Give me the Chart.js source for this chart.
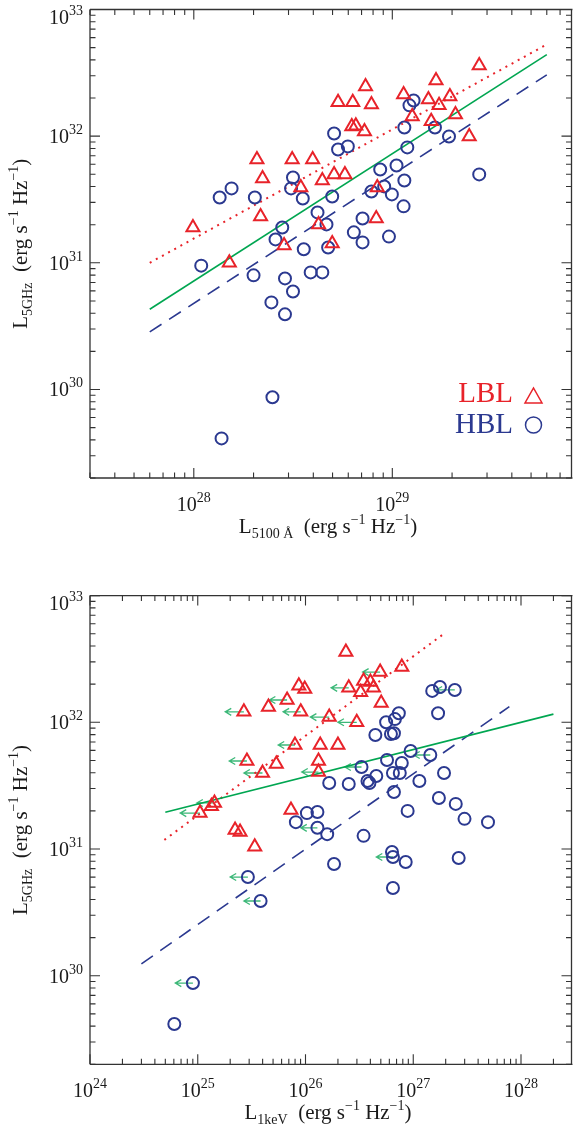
<!DOCTYPE html>
<html><head><meta charset="utf-8">
<script src="https://cdn.jsdelivr.net/npm/chart.js@4.4.1/dist/chart.umd.min.js"></script>
<style>
html,body{margin:0;padding:0;background:#fff;}
#wrap{position:relative;width:580px;height:1128px;overflow:hidden;background:#fff;}
.c{position:absolute;left:0;width:580px;height:564px;}
</style></head><body>
<div id="wrap">
<div class="c" style="top:0"><canvas id="topChart" width="580" height="564"></canvas></div>
<div class="c" style="top:564px"><canvas id="botChart" width="580" height="564"></canvas></div>
</div>
<script>
// ---------- Top panel: L5GHz vs L5100A ----------
const topLBL_x = [2.08e28,3.13e28,3.97e28,2.22e28,3.46e28,4.44e28,2.17e28,4.25e28,9.9e27,2.85e28,1.51e28,2.74e29,1.66e29,7.33e28,1.14e29,5.33e28,6.32e28,7.85e28,1.52e29,1.95e29,1.72e29,2.08e29,1.26e29,6.25e28,6.55e28,7.24e28,1.57e29,2.44e29,5.09e28,5.77e28,8.4e28,8.3e28,4.98e28];
const topLBL_y = [6.55e31,6.55e31,6.55e31,4.64e31,3.94e31,4.47e31,2.32e31,2.01e31,1.9e31,1.37e31,1.0e31,3.61e32,2.75e32,2.47e32,2.13e32,1.85e32,1.85e32,1.78e32,1.95e32,2.06e32,1.75e32,1.48e32,1.43e32,1.19e32,1.21e32,1.09e32,1.31e32,9.95e31,4.99e31,4.99e31,3.94e31,2.24e31,1.42e31];
const topHBL_x = [1.35e28,1.55e28,2.03e28,3.16e28,3.09e28,3.54e28,4.2e28,2.79e28,2.58e28,3.58e28,1.09e28,2.0e28,2.88e28,3.88e28,4.44e28,3.16e28,2.46e28,2.88e28,2.49e28,1.38e28,1.28e29,1.22e29,5.09e28,5.33e28,5.97e28,1.15e29,1.64e29,1.93e29,1.19e29,1.05e29,8.69e28,1.15e29,4.98e28,7.85e28,9.1e28,9.95e28,1.14e29,2.74e29,4.66e28,7.08e28,6.4e28,7.08e28,9.62e28,4.75e28];
const topHBL_y = [3.28e31,3.87e31,3.28e31,4.72e31,3.87e31,3.22e31,2.5e31,1.9e31,1.53e31,1.28e31,9.5e30,7.96e30,7.53e30,8.4e30,8.4e30,5.94e30,4.87e30,3.92e30,8.67e29,4.11e29,1.91e32,1.75e32,1.05e32,7.85e31,8.3e31,1.17e32,1.17e32,9.95e31,8.15e31,5.87e31,5.46e31,4.47e31,3.34e31,3.66e31,4.01e31,3.47e31,2.79e31,4.99e31,2.01e31,2.24e31,1.74e31,1.45e31,1.61e31,1.32e31];
const topFit_x = [6e27, 6e29];
const topFitAll_y = [4.3e30, 4.4e32];
const topFitLBL_y = [1.0e31, 5.3e32];
const topFitHBL_y = [2.85e30, 3.05e32];

// ---------- Bottom panel: L5GHz vs L1keV ----------
const botLBL_x = [8.67e25,9.84e25,6.75e25,4.53e25,9.04e25,2.68e25,1.66e26,7.98e25,1.37e26,2.86e25,5.36e25,1.32e26,3.99e25,1.32e26,1.43e25,1.34e25,1.05e25,7.33e25,2.22e25,2.47e25,3.38e25,2.37e26,7.83e26,4.93e26,3.46e26,4.0e26,2.52e26,3.25e26,4.27e26,5.04e26,2.99e26,2.0e26];
const botLBL_y = [1.94e32,1.83e32,1.5e32,1.32e32,1.21e32,1.21e32,1.1e32,6.62e31,6.62e31,4.95e31,4.69e31,4.95e31,3.98e31,4.05e31,2.31e31,2.18e31,1.92e31,2.03e31,1.41e31,1.36e31,1.04e31,3.59e32,2.73e32,2.49e32,2.12e32,2.08e32,1.87e32,1.73e32,1.87e32,1.42e32,1.0e32,6.62e31];
const botLBL_limIdx = [2,4,5,6,7,9,12,13,14,16,23,26,30];
const botLBL_limTip = [4.62e25,6.2e25,1.8e25,1.11e26,5.58e25,1.96e25,2.68e25,9.23e25,9.8e24,6.88e24,3.39e26,1.73e26,2.0e26];
const botHBL_x = [1.5e27,1.77e27,2.43e27,1.7e27,7.35e26,6.76e26,5.6e26,4.45e26,6.21e26,6.62e26,9.45e26,1.44e27,5.71e26,7.83e26,3.31e26,1.93e27,7.5e26,6.48e26,4.54e26,3.76e26,3.92e26,2.52e26,1.66e26,1.14e27,6.62e26,1.73e27,2.48e27,8.87e26,2.99e27,4.94e27,3.46e26,1.59e26,1.84e26,6.35e26,6.48e26,8.51e26,2.64e27,6.48e26,1.29e26,1.03e26,8.14e25,1.29e26,2.92e25,3.83e25,9.02e24,6.06e24];
const botHBL_y = [1.77e32,1.9e32,1.8e32,1.18e32,1.18e32,1.06e32,1.0e32,7.94e31,8.09e31,8.2e31,5.94e31,5.52e31,5.04e31,4.77e31,4.44e31,3.98e31,3.98e31,3.98e31,3.77e31,3.44e31,3.32e31,3.26e31,3.32e31,3.44e31,2.82e31,2.53e31,2.27e31,2.0e31,1.73e31,1.63e31,1.27e31,1.31e31,7.62e30,9.47e30,8.65e30,7.89e30,8.49e30,4.92e30,1.96e31,1.92e31,1.63e31,1.47e31,6.01e30,3.89e30,8.75e29,4.16e29];
const botHBL_limIdx = [2,11,14,34,41,42,43,44];
const botHBL_limTip = [1.63e27,1.01e27,2.32e26,4.54e26,9.04e25,2.0e25,2.68e25,6.19e24];
const botFitAll_x = [5e24, 2e28];
const botFitAll_y = [1.95e31, 1.16e32];
const botFitLBL_x = [4.9e24, 1.95e27];
const botFitLBL_y = [1.18e31, 5.04e32];
const botFitHBL_x = [3e24, 7.8e27];
const botFitHBL_y = [1.24e30, 1.33e32];

// ---------- styling ----------
const RED = '#e8232a', BLUE = '#2b3990', GREEN = '#00a651', ARROW = '#3cb878', AXIS = '#333333';
const FONT = '"Liberation Serif","Times New Roman",serif';

function pts(xs, ys) { return xs.map((v, i) => ({x: v, y: ys[i]})); }

function rich(ctx, parts, x, y, align) {
  let w = 0;
  const ws = parts.map(p => { ctx.font = p[1] + 'px ' + FONT; const m = ctx.measureText(p[0]).width; w += m; return m; });
  let cx = align === 'right' ? x - w : (align === 'center' ? x - w / 2 : x);
  ctx.textAlign = 'left'; ctx.textBaseline = 'alphabetic';
  parts.forEach((p, i) => { ctx.font = p[1] + 'px ' + FONT; ctx.fillText(p[0], cx, y + (p[2] || 0)); cx += ws[i]; });
}

function logTicks(min, max) {
  const out = [];
  for (let e = Math.floor(Math.log10(min)); e <= Math.ceil(Math.log10(max)); e++) {
    for (let k = 1; k < 10; k++) {
      const v = k * Math.pow(10, e);
      if (v >= min * 0.9999 && v <= max * 1.0001) out.push({v, major: k === 1, e});
    }
  }
  return out;
}

const framePlugin = {
  id: 'frameAxes',
  beforeDatasetsDraw(chart, args, o) {
    const {ctx, scales: {x, y}} = chart;
    if (!o.arrows) return;
    ctx.save();
    ctx.strokeStyle = ARROW; ctx.lineWidth = 1.3;
    o.arrows.forEach(ar => {
      ar.idx.forEach((i, k) => {
        const px0 = x.getPixelForValue(ar.xs[i]), py = y.getPixelForValue(ar.ys[i]);
        const px1 = x.getPixelForValue(ar.tips[k]);
        ctx.beginPath();
        ctx.moveTo(px0, py); ctx.lineTo(px1, py);
        ctx.moveTo(px1 + 6, py - 3.5); ctx.lineTo(px1, py); ctx.lineTo(px1 + 6, py + 3.5);
        ctx.stroke();
      });
    });
    ctx.restore();
  },
  afterDatasetsDraw(chart, args, o) {
    const {ctx, chartArea: a, scales: {x, y}} = chart;
    ctx.save();
    ctx.strokeStyle = AXIS; ctx.lineWidth = 1.3;
    ctx.beginPath();
    ctx.moveTo(a.left, a.top); ctx.lineTo(a.right + 2, a.top);
    ctx.moveTo(a.left, a.bottom); ctx.lineTo(a.right + 2, a.bottom);
    ctx.moveTo(a.left, a.top); ctx.lineTo(a.left, a.bottom);
    ctx.moveTo(a.right + 1, a.top); ctx.lineTo(a.right + 1, a.bottom);
    ctx.stroke();
    ctx.lineWidth = 1.1;
    ctx.beginPath();
    logTicks(x.min, x.max).forEach(t => {
      const px = x.getPixelForValue(t.v), L = t.major ? 10 : 5.5;
      ctx.moveTo(px, a.bottom); ctx.lineTo(px, a.bottom - L);
      ctx.moveTo(px, a.top); ctx.lineTo(px, a.top + L);
    });
    logTicks(y.min, y.max).forEach(t => {
      const py = y.getPixelForValue(t.v), L = t.major ? 10 : 5.5;
      ctx.moveTo(a.left, py); ctx.lineTo(a.left + L, py);
      ctx.moveTo(a.right + 1, py); ctx.lineTo(a.right + 1 - L, py);
    });
    ctx.stroke();
    ctx.fillStyle = '#1a1a1a';
    logTicks(x.min, x.max).filter(t => t.major).forEach(t => {
      rich(ctx, [['10', 20], [String(t.e), 14, -9]], x.getPixelForValue(t.v), a.bottom + 33, 'center');
    });
    logTicks(y.min, y.max).filter(t => t.major).forEach(t => {
      const py = y.getPixelForValue(t.v);
      const base = (py - a.top < 3) ? py + 14 : py + 7;
      rich(ctx, [['10', 20], [String(t.e), 14, -9]], 83, base, 'right');
    });
    // axis titles
    rich(ctx, o.xTitle, o.xTitlePos[0], o.xTitlePos[1], 'center');
    ctx.save();
    ctx.translate(o.yTitlePos[0], (a.top + a.bottom) / 2);
    ctx.rotate(-Math.PI / 2);
    rich(ctx, o.yTitle, 0, 0, 'center');
    ctx.restore();
    // legend
    if (o.legend) {
      ctx.font = '29px ' + FONT; ctx.textAlign = 'right'; ctx.textBaseline = 'alphabetic';
      ctx.fillStyle = RED; ctx.fillText('LBL', 513, 402);
      ctx.fillStyle = BLUE; ctx.fillText('HBL', 513, 433);
      ctx.lineWidth = 1.5;
      ctx.strokeStyle = RED;
      ctx.beginPath(); ctx.moveTo(525, 403); ctx.lineTo(542, 403); ctx.lineTo(533.5, 388); ctx.closePath(); ctx.stroke();
      ctx.strokeStyle = BLUE;
      ctx.beginPath(); ctx.arc(533.5, 425, 8, 0, Math.PI * 2); ctx.stroke();
    }
    ctx.restore();
  }
};
Chart.register(framePlugin);

const yTitle = [['L', 21], ['5GHz', 14, 5], ['  (erg s', 21], ['\u22121', 14, -9], [' Hz', 21], ['\u22121', 14, -9], [')', 21]];

function makeChart(id, datasets, xr, pad, plug) {
  return new Chart(document.getElementById(id), {
    type: 'scatter',
    data: {datasets},
    options: {
      responsive: false, animation: false, events: [],
      layout: {padding: pad},
      scales: {
        x: {type: 'logarithmic', display: false, min: xr[0], max: xr[1]},
        y: {type: 'logarithmic', display: false, min: 2e29, max: 1e33}
      },
      plugins: {legend: {display: false}, tooltip: {enabled: false}, frameAxes: plug}
    }
  });
}

function markerSets(lx, ly, hx, hy) {
  return [
    {label: 'LBL', data: pts(lx, ly), pointStyle: 'triangle', pointRadius: 7.5, pointBorderColor: RED, pointBackgroundColor: 'rgba(0,0,0,0)', pointBorderWidth: 2, showLine: false},
    {label: 'HBL', data: pts(hx, hy), pointStyle: 'circle', pointRadius: 6, pointBorderColor: BLUE, pointBackgroundColor: 'rgba(0,0,0,0)', pointBorderWidth: 2, showLine: false}
  ];
}
function lineSet(label, xs, ys, color, dash, w) {
  return {label, data: pts(xs, ys), showLine: true, pointRadius: 0, borderColor: color, borderWidth: w, borderDash: dash, borderCapStyle: 'butt', fill: false};
}

makeChart('topChart', [
  ...markerSets(topLBL_x, topLBL_y, topHBL_x, topHBL_y),
  lineSet('All fit', topFit_x, topFitAll_y, GREEN, [], 1.6),
  lineSet('LBL fit', topFit_x, topFitLBL_y, RED, [2, 5], 2),
  lineSet('HBL fit', topFit_x, topFitHBL_y, BLUE, [14, 9], 1.6)
], [3e27, 7.9e29], {left: 90, top: 9, right: 0, bottom: 86}, {
  legend: true,
  xTitle: [['L', 21], ['5100 \u00C5', 14, 5], ['  (erg s', 21], ['\u22121', 14, -9], [' Hz', 21], ['\u22121', 14, -9], [')', 21]],
  xTitlePos: [328, 533],
  yTitle, yTitlePos: [27]
});

makeChart('botChart', [
  ...markerSets(botLBL_x, botLBL_y, botHBL_x, botHBL_y),
  lineSet('All fit', botFitAll_x, botFitAll_y, GREEN, [], 1.6),
  lineSet('LBL fit', botFitLBL_x, botFitLBL_y, RED, [2, 5], 2),
  lineSet('HBL fit', botFitHBL_x, botFitHBL_y, BLUE, [14, 9], 1.6)
], [1e24, 2.88e28], {left: 90, top: 31.6, right: 0, bottom: 63.7}, {
  legend: false,
  arrows: [
    {xs: botLBL_x, ys: botLBL_y, idx: botLBL_limIdx, tips: botLBL_limTip},
    {xs: botHBL_x, ys: botHBL_y, idx: botHBL_limIdx, tips: botHBL_limTip}
  ],
  xTitle: [['L', 21], ['1keV', 14, 5], ['  (erg s', 21], ['\u22121', 14, -9], [' Hz', 21], ['\u22121', 14, -9], [')', 21]],
  xTitlePos: [328, 555],
  yTitle, yTitlePos: [27]
});
</script>
</body></html>
